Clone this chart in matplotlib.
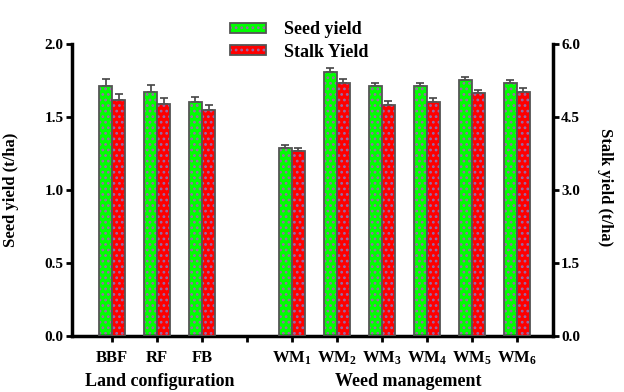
import matplotlib
matplotlib.use("Agg")
import matplotlib.pyplot as plt
import numpy as np

plt.rcParams['font.family'] = ['Liberation Serif', 'DejaVu Serif']
plt.rcParams['font.weight'] = 'bold'
plt.rcParams['hatch.linewidth'] = 1.2
plt.rcParams['mathtext.fontset'] = 'custom'
plt.rcParams['mathtext.rm'] = 'Liberation Serif:bold'
plt.rcParams['mathtext.it'] = 'Liberation Serif:bold'
plt.rcParams['mathtext.bf'] = 'Liberation Serif:bold'
plt.rcParams['mathtext.default'] = 'rm'

categories = ["WM", "RF", "FB", "WM$_1$", "WM$_2$", "WM$_3$", "WM$_4$", "WM$_5$", "WM$_6$"]
categories[0] = "BBF"
positions = [0, 1, 2, 4, 5, 6, 7, 8, 9]
seed_yield = [1.71, 1.67, 1.60, 1.29, 1.81, 1.71, 1.71, 1.75, 1.73]
seed_err = [0.05, 0.05, 0.04, 0.02, 0.025, 0.025, 0.025, 0.027, 0.025]
stalk_yield = [4.85, 4.77, 4.64, 3.81, 5.20, 4.75, 4.81, 4.99, 5.02]
stalk_err = [0.13, 0.12, 0.11, 0.06, 0.075, 0.07, 0.07, 0.07, 0.07]
group_labels = ["Land configuration", "Weed management"]

fig = plt.figure(figsize=(6.24, 3.92), dpi=100)
ax = fig.add_axes([0.1154, 0.1429, 0.7706, 0.7449])
ax2 = ax.twinx()

x = np.array(positions, dtype=float)
w = 0.29
edge = '#555555'
dotc = '#9a6aa8'

h1 = ax.bar(x - w / 2, seed_yield, w, color='#00ff00', edgecolor=dotc,
            linewidth=0, hatch='...', zorder=2)
o1 = ax.bar(x - w / 2, seed_yield, w, fill=False, edgecolor=edge, linewidth=1.3, zorder=3)
ax.errorbar(x - w / 2, seed_yield, yerr=[np.zeros(len(seed_err)), seed_err],
            fmt='none', ecolor='#444444', elinewidth=1.2, capsize=3, capthick=1.2, zorder=1)
h2 = ax2.bar(x + w / 2, stalk_yield, w, color='#ff0000', edgecolor=dotc,
             linewidth=0, hatch='...', zorder=2)
o2 = ax2.bar(x + w / 2, stalk_yield, w, fill=False, edgecolor=edge, linewidth=1.3, zorder=3)
ax2.errorbar(x + w / 2, stalk_yield, yerr=[np.zeros(len(stalk_err)), stalk_err],
             fmt='none', ecolor='#444444', elinewidth=1.2, capsize=3, capthick=1.2, zorder=1)

ax.set_xlim(-0.89, 9.8)
ax.set_ylim(0, 2.0)
ax2.set_ylim(0, 6.0)
ax.set_yticks([0, 0.5, 1.0, 1.5, 2.0])
ax.set_yticklabels(["0.0", "0.5", "1.0", "1.5", "2.0"])
ax2.set_yticks([0, 1.5, 3.0, 4.5, 6.0])
ax2.set_yticklabels(["0.0", "1.5", "3.0", "4.5", "6.0"])
ax.set_xticks(positions + [3])
ax.set_xticklabels(categories + [""])

for a in (ax, ax2):
    a.spines['top'].set_visible(False)
    for s in ('left', 'right', 'bottom'):
        a.spines[s].set_linewidth(2.5)
    a.tick_params(axis='both', width=2, length=4, labelsize=11, pad=2)
ax.spines['right'].set_visible(False)
ax2.spines['left'].set_visible(False)
ax2.spines['bottom'].set_visible(False)
ax.tick_params(axis='x', pad=6, labelsize=12)

ax.set_ylabel("Seed yield (t/ha)", fontsize=12, fontweight='bold')
ax.yaxis.set_label_coords(-0.11, 0.5)
ax2.set_ylabel("Stalk yield (t/ha)", fontsize=12, fontweight='bold', rotation=270, va='center')
ax2.yaxis.set_label_coords(1.108, 0.51)

fig.text(160 / 624, 1 - 382 / 392, group_labels[0], ha='center', va='center', fontsize=13, fontweight='bold')
fig.text(408 / 624, 1 - 382 / 392, group_labels[1], ha='center', va='center', fontsize=13, fontweight='bold')

fig.legend(handles=[(h1[0], o1[0]), (h2[0], o2[0])], labels=['Seed yield', 'Stalk Yield'],
           loc='upper left', bbox_to_anchor=(214 / 624, 1 - 5 / 392),
           frameon=False, handlelength=2.0, handleheight=0.45,
           handletextpad=1.0, labelspacing=0.3, prop={'weight': 'bold', 'size': 13})

fig.savefig("out.png", dpi=100)
